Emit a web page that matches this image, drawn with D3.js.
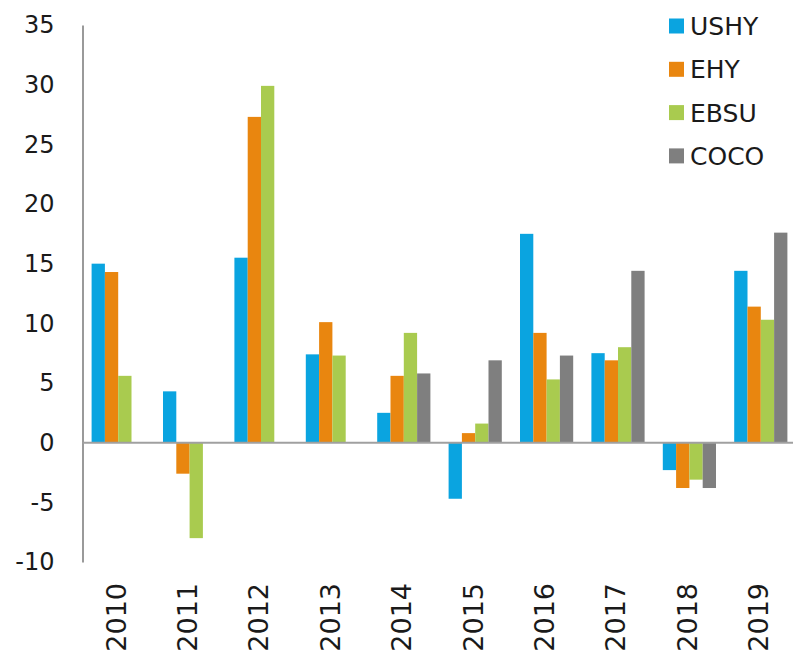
<!DOCTYPE html>
<html>
<head>
<meta charset="utf-8">
<script src="https://cdn.jsdelivr.net/npm/d3@7"></script>
<style>
  html, body { margin: 0; padding: 0; background: #fff; }
  svg { display: block; }
  text { font-family: "DejaVu Sans", sans-serif; fill: #1a1a1a; }
</style>
</head>
<body>
<svg id="chart" width="793" height="653"></svg>
<script>
const years = ["2010","2011","2012","2013","2014","2015","2016","2017","2018","2019"];
const seriesNames = ["USHY","EHY","EBSU","COCO"];
const ushy = [15.0, 4.3, 15.5, 7.4, 2.5, -4.7, 17.5, 7.5, -2.3, 14.4];
const ehy  = [14.3, -2.6, 27.3, 10.1, 5.6, 0.8, 9.2, 6.9, -3.8, 11.4];
const ebsu = [5.6, -8.0, 29.9, 7.3, 9.2, 1.6, 5.3, 8.0, -3.1, 10.3];
const coco = [null, null, null, null, 5.8, 6.9, 7.3, 14.4, -3.8, 17.6];
const yTicks = [-10, -5, 0, 5, 10, 15, 20, 25, 30, 35];
const colors = ["#0aa4e0", "#e9860f", "#a9cb4f", "#7f7f7f"];

const seriesValues = [ushy, ehy, ebsu, coco];
const svg = d3.select("#chart");

const y = d3.scaleLinear().domain([-10, 35]).range([562, 25]);
const x0 = d3.scaleBand().domain(years).range([82.5, 796.5]).paddingInner(0.255).paddingOuter(0.1275);
const x1 = d3.scaleBand().domain(seriesNames).range([0, x0.bandwidth()]);
const color = d3.scaleOrdinal().domain(seriesNames).range(colors);

// bars
const rows = [];
years.forEach((yr, i) => {
  seriesNames.forEach((s, j) => {
    const v = seriesValues[j][i];
    if (v !== null && v !== undefined) rows.push({ year: yr, series: s, value: v });
  });
});

svg.append("g").selectAll("rect").data(rows).join("rect")
  .attr("x", d => x0(d.year) + x1(d.series))
  .attr("width", x1.bandwidth())
  .attr("y", d => y(Math.max(0, d.value)))
  .attr("height", d => Math.abs(y(d.value) - y(0)))
  .attr("fill", d => color(d.series));

// y axis
const yAxis = d3.axisLeft(y).tickValues(yTicks).tickSize(0).tickPadding(28).tickFormat(d => String(d));
const gy = svg.append("g").attr("transform", "translate(82.5,0)").call(yAxis);
gy.select(".domain").attr("stroke", "#9a9a9a").attr("stroke-width", 2);
gy.selectAll("text").attr("font-size", 24).attr("font-family", "DejaVu Sans, sans-serif").attr("fill", "#1a1a1a");

// zero line
svg.append("line")
  .attr("x1", 82.5).attr("x2", 793)
  .attr("y1", y(0)).attr("y2", y(0))
  .attr("stroke", "#a0a0a0").attr("stroke-width", 2);

// x labels
svg.append("g").selectAll("text").data(years).join("text")
  .attr("transform", d => `translate(${x0(d) + x0.bandwidth() / 2 - 2},583) rotate(-90)`)
  .attr("text-anchor", "end")
  .attr("dy", "0.35em")
  .attr("font-size", 27)
  .text(d => d);

// legend
const legend = svg.append("g").selectAll("g").data(seriesNames).join("g")
  .attr("transform", (d, i) => `translate(669,${26 + i * 43.3})`);
legend.append("rect").attr("x", 0).attr("y", -7.5).attr("width", 15).attr("height", 15)
  .attr("fill", d => color(d));
legend.append("text").attr("x", 21).attr("dy", "0.36em").attr("font-size", 25).text(d => d);
</script>
</body>
</html>
